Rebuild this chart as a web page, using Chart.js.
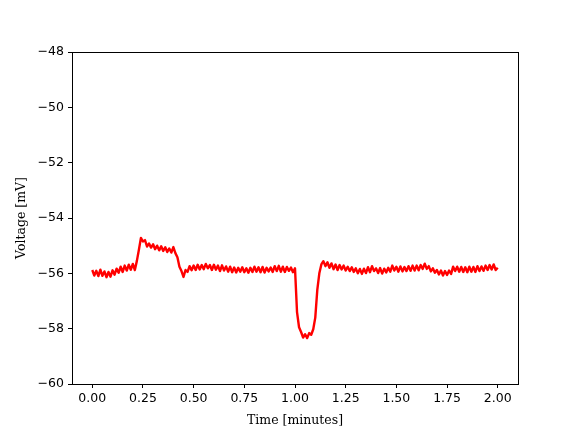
<!DOCTYPE html>
<html>
<head>
<meta charset="utf-8">
<script src="https://cdn.jsdelivr.net/npm/chart.js@4/dist/chart.umd.min.js"></script>
<style>
  body { margin: 0; background: #fff; }
</style>
</head>
<body>
<canvas id="trace" width="576" height="432"></canvas>
<script>
const tStart = 0;
const tStep = 0.01;
const voltage = [
  -55.88, -56.08, -55.91, -56.10, -55.87, -56.09, -55.93, -56.14, -55.95, -56.12, // 0.00
  -55.89, -56.05, -55.83, -55.98, -55.76, -55.95, -55.72, -55.90, -55.69, -55.87, // 0.10
  -55.66, -55.88, -55.55, -55.15, -54.72, -54.85, -54.80, -55.03, -54.92, -55.07, // 0.20
  -54.95, -55.13, -55.00, -55.17, -55.02, -55.19, -55.06, -55.23, -55.10, -55.25, // 0.30
  -55.05, -55.27, -55.42, -55.76, -55.92, -56.13, -55.88, -55.95, -55.74, -55.89, // 0.40
  -55.72, -55.88, -55.69, -55.86, -55.70, -55.85, -55.66, -55.82, -55.70, -55.88, // 0.50
  -55.69, -55.87, -55.72, -55.92, -55.71, -55.90, -55.75, -55.94, -55.76, -55.96, // 0.60
  -55.79, -55.97, -55.80, -55.94, -55.78, -55.96, -55.82, -55.98, -55.80, -55.95, // 0.70
  -55.76, -55.94, -55.78, -55.96, -55.77, -55.97, -55.80, -55.93, -55.79, -55.95, // 0.80
  -55.74, -55.92, -55.73, -55.94, -55.76, -55.95, -55.77, -55.91, -55.79, -55.96, // 0.90
  -55.82, -57.40, -57.95, -58.12, -58.32, -58.20, -58.34, -58.16, -58.22, -58.02, // 1.00
  -57.60, -56.60, -56.00, -55.68, -55.56, -55.74, -55.60, -55.80, -55.64, -55.85, // 1.10
  -55.68, -55.88, -55.70, -55.86, -55.72, -55.90, -55.76, -55.92, -55.78, -55.95, // 1.20
  -55.82, -56.00, -55.84, -56.02, -55.83, -55.99, -55.78, -55.96, -55.74, -55.92, // 1.30
  -55.82, -55.99, -55.81, -56.01, -55.83, -55.97, -55.80, -55.94, -55.72, -55.90, // 1.40
  -55.76, -55.94, -55.75, -55.93, -55.77, -55.92, -55.74, -55.91, -55.72, -55.90, // 1.50
  -55.72, -55.89, -55.70, -55.84, -55.65, -55.84, -55.74, -55.93, -55.82, -55.98, // 1.60
  -55.88, -56.04, -55.90, -56.08, -55.92, -56.06, -55.90, -56.02, -55.76, -55.92, // 1.70
  -55.76, -55.94, -55.77, -55.95, -55.78, -55.96, -55.76, -55.94, -55.77, -55.95, // 1.80
  -55.74, -55.92, -55.75, -55.91, -55.72, -55.88, -55.70, -55.86, -55.68, -55.88, // 1.90
  -55.80                                                                          // 2.00
];
const xTicks = [0, 0.25, 0.5, 0.75, 1.0, 1.25, 1.5, 1.75, 2.0];
const yTicks = [-60, -58, -56, -54, -52, -50, -48];

const points = voltage.map((v, i) => ({ x: tStart + i * tStep, y: v }));

// matplotlib style box round the plot
const frame = {
    id: 'frame',
    afterDraw(chart) {
        const a = chart.chartArea;
        const ctx = chart.ctx;
        ctx.save();
        ctx.strokeStyle = '#000';
        ctx.lineWidth = 1;
        ctx.strokeRect(Math.round(a.left) + 0.5, Math.round(a.top) + 0.5,
            Math.round(a.right - a.left), Math.round(a.bottom - a.top));
        ctx.restore();
    }
};

const minus = (s) => String(s).replace('-', '\u2212');

new Chart(document.getElementById('trace'), {
    type: 'line',
    data: {
        datasets: [{
            data: points,
            borderColor: '#ff0000',
            borderWidth: 2.4,
            borderJoinStyle: 'round',
            pointRadius: 0,
            tension: 0,
            fill: false
        }]
    },
    options: {
        responsive: false,
        animation: false,
        devicePixelRatio: 1,
        layout: { padding: { left: 0, top: 52, right: 58, bottom: 0 } },
        plugins: { legend: { display: false }, tooltip: { enabled: false } },
        scales: {
            x: {
                type: 'linear',
                min: -0.1,
                max: 2.1,
                afterBuildTicks: (s) => { s.ticks = xTicks.map(v => ({ value: v })); },
                afterFit: (s) => { s.height = 48; },
                grid: { drawOnChartArea: false, drawTicks: true, tickLength: 4, color: '#000' },
                border: { display: true, color: '#000' },
                ticks: {
                    color: '#000',
                    padding: 3,
                    maxRotation: 0,
                    font: { family: 'DejaVu Sans', size: 12.5 },
                    callback: (v) => minus(v.toFixed(2))
                },
                title: {
                    display: true,
                    text: 'Time [minutes]',
                    color: '#000',
                    font: { family: 'DejaVu Serif', size: 12.5 },
                    padding: { top: 2, bottom: 4 }
                }
            },
            y: {
                min: -60,
                max: -48,
                afterBuildTicks: (s) => { s.ticks = yTicks.map(v => ({ value: v })); },
                afterFit: (s) => { s.width = 72; },
                grid: { drawOnChartArea: false, drawTicks: true, tickLength: 4, color: '#000' },
                border: { display: true, color: '#000' },
                ticks: {
                    color: '#000',
                    padding: 4,
                    font: { family: 'DejaVu Sans', size: 12.5 },
                    callback: (v) => minus(v)
                },
                title: {
                    display: true,
                    text: 'Voltage [mV]',
                    color: '#000',
                    font: { family: 'DejaVu Serif', size: 12.5 },
                    padding: { top: 14, bottom: 0 }
                }
            }
        }
    },
    plugins: [frame]
});
</script>
</body>
</html>
